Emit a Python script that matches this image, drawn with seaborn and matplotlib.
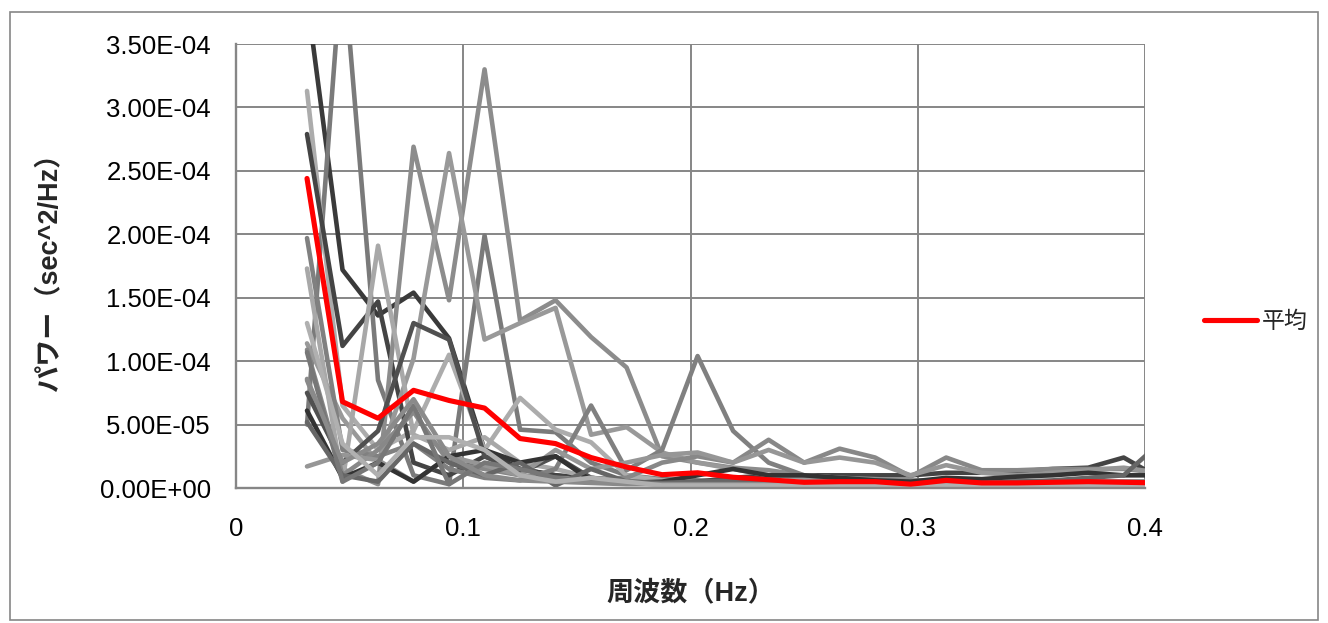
import matplotlib
matplotlib.use("Agg")
import matplotlib.pyplot as plt
from matplotlib.patches import Rectangle
from matplotlib.ticker import FuncFormatter, MultipleLocator
import seaborn as sns
import pandas as pd

# frequencies (Hz)
freq = [0.03125, 0.046875, 0.0625, 0.078125, 0.09375, 0.109375, 0.125, 0.140625,
        0.15625, 0.171875, 0.1875, 0.203125, 0.21875, 0.234375, 0.25, 0.265625,
        0.28125, 0.296875, 0.3125, 0.328125, 0.34375, 0.359375, 0.375, 0.390625, 0.40625]

UNIT = 1e-5  # values below are in units of 1e-5 sec^2/Hz

g01 = [38.6, 17.2, 13.6, 15.4, 11.8, 3.0, 1.5, 1.0, 0.8, 0.5, 0.4, 0.4, 0.5, 0.4, 0.4, 0.3, 0.3, 0.3, 0.4, 0.3, 0.3, 0.3, 0.3, 0.3, 0.3]
g02 = [5.0, 42.0, 8.5, 1.0, 0.3, 19.9, 4.6, 4.4, 2.0, 1.0, 0.7, 0.6, 0.5, 0.5, 0.4, 0.4, 0.4, 0.3, 0.3, 0.3, 0.3, 0.3, 0.3, 0.3, 0.3]
g03 = [31.3, 6.5, 3.0, 4.5, 10.5, 3.0, 7.1, 4.6, 3.6, 1.0, 0.6, 0.5, 0.5, 0.4, 0.4, 0.3, 0.3, 0.3, 0.3, 0.3, 0.3, 0.3, 0.3, 0.3, 0.3]
g04 = [27.9, 11.2, 14.7, 2.0, 1.0, 2.5, 1.5, 1.0, 0.6, 0.5, 0.4, 0.5, 0.8, 1.0, 1.0, 1.0, 1.0, 1.0, 1.2, 1.2, 1.3, 1.5, 1.6, 2.4, 0.8]
g05 = [8.5, 1.5, 0.3, 26.9, 14.8, 33.0, 13.2, 14.8, 11.9, 9.5, 2.5, 2.0, 1.6, 1.4, 1.0, 0.8, 0.7, 0.6, 0.6, 0.6, 0.6, 0.5, 0.5, 0.5, 0.5]
g06 = [11.4, 5.5, 2.0, 10.2, 26.4, 11.7, 13.0, 14.2, 4.2, 4.8, 2.8, 2.0, 1.5, 1.0, 0.8, 0.6, 0.5, 0.5, 0.5, 0.4, 0.4, 0.4, 0.4, 0.4, 0.4]
g07 = [17.3, 0.5, 19.1, 4.2, 3.0, 4.0, 2.0, 1.5, 0.8, 0.6, 0.5, 0.4, 0.4, 0.3, 0.3, 0.3, 0.3, 0.3, 0.3, 0.3, 0.3, 0.3, 0.3, 0.3, 0.3]
g08 = [19.7, 3.0, 2.5, 3.5, 1.5, 0.8, 0.6, 1.5, 6.5, 1.4, 3.0, 10.4, 4.5, 2.0, 1.0, 0.8, 0.6, 0.5, 0.5, 0.5, 0.5, 0.5, 0.5, 0.5, 0.5]
g09 = [7.5, 2.0, 4.5, 13.0, 11.7, 2.5, 1.2, 2.5, 0.8, 0.5, 0.4, 0.4, 0.4, 0.3, 0.3, 0.3, 0.3, 0.3, 0.3, 0.3, 0.3, 0.3, 0.3, 0.3, 0.3]
g10 = [10.9, 1.0, 3.0, 6.0, 2.0, 1.5, 1.0, 0.8, 0.7, 0.8, 2.0, 2.5, 2.0, 3.8, 2.0, 3.1, 2.4, 0.9, 2.4, 1.4, 1.4, 1.5, 1.5, 1.5, 1.2]
g11 = [1.7, 2.6, 2.2, 0.5, 2.5, 1.8, 1.0, 3.0, 1.5, 2.0, 2.6, 2.8, 2.0, 3.0, 2.0, 2.4, 2.0, 1.0, 1.8, 1.2, 1.0, 1.2, 1.4, 1.6, 1.2]
g12 = [6.1, 0.8, 2.0, 0.5, 2.5, 3.0, 2.0, 2.5, 0.6, 0.4, 0.5, 1.0, 1.5, 1.0, 1.0, 0.8, 0.6, 0.5, 0.8, 0.7, 0.9, 1.0, 1.2, 1.0, 1.0]
g13 = [5.2, 1.0, 0.5, 3.5, 2.0, 1.0, 2.0, 0.2, 1.5, 0.5, 0.4, 0.5, 0.6, 0.4, 0.3, 0.3, 0.3, 0.3, 0.3, 0.4, 0.5, 0.6, 0.8, 1.0, 3.5]
g14 = [10.7, 0.5, 2.0, 6.5, 0.3, 2.0, 1.5, 0.8, 0.5, 0.4, 0.3, 0.3, 0.3, 0.2, 0.2, 0.2, 0.2, 0.2, 0.2, 0.2, 0.2, 0.2, 0.2, 0.2, 0.2]
g15 = [8.6, 2.0, 3.5, 7.0, 2.5, 1.0, 0.6, 0.5, 0.4, 0.3, 0.3, 0.3, 0.3, 0.3, 0.3, 0.3, 0.2, 0.2, 0.2, 0.2, 0.2, 0.2, 0.2, 0.2, 0.2]
g16 = [13.0, 3.5, 1.0, 4.0, 4.0, 3.0, 1.0, 0.5, 0.8, 0.5, 0.2, 0.2, 0.2, 0.2, 0.2, 0.2, 0.2, 0.2, 0.2, 0.2, 0.2, 0.2, 0.2, 0.2, 0.2]

mean = [24.4, 6.8, 5.5, 7.7, 6.9, 6.3, 3.9, 3.5, 2.4, 1.65, 1.05, 1.2, 0.85, 0.65, 0.45, 0.5, 0.5, 0.3, 0.6, 0.4, 0.4, 0.45, 0.5, 0.45, 0.4]

gray_series = [g01, g02, g03, g04, g05, g06, g07, g08, g09, g10, g11, g12, g13, g14, g15, g16]
gray_colors = ['#3a3a3a', '#7a7a7a', '#acacac', '#444444', '#8c8c8c', '#999999', '#a8a8a8', '#808080',
               '#505050', '#888888', '#969696', '#333333', '#666666', '#777777', '#8a8a8a', '#b0b0b0']

mean_label = "平均"
xlabel = "周波数（Hz）"
ylabel = "パワー（sec^2/Hz）"

sns.set_style("white")
plt.rcParams['font.family'] = ['Liberation Sans', 'Noto Sans CJK JP', 'DejaVu Sans']

fig = plt.figure(figsize=(13.28, 6.23), dpi=100)
ax = fig.add_axes([236/1328, 1 - 488/623, (1145-236)/1328, (488-44)/623])

rows = []
for k, s in enumerate(gray_series):
    for f, v in zip(freq, s):
        rows.append({"freq": f, "power": v * UNIT, "series": f"s{k:02d}"})
df = pd.DataFrame(rows)
palette = {f"s{k:02d}": c for k, c in enumerate(gray_colors)}
sns.lineplot(data=df, x="freq", y="power", hue="series", palette=palette,
             linewidth=3.3, legend=False, ax=ax, estimator=None, sort=False)

sns.lineplot(x=freq, y=[v * UNIT for v in mean], color='#ff0000', linewidth=3.7,
             label=mean_label, ax=ax, estimator=None, sort=False)

ax.set_xlim(0, 0.4)
ax.set_ylim(0, 3.5e-4)
ax.xaxis.set_major_locator(MultipleLocator(0.1))
ax.yaxis.set_major_locator(MultipleLocator(5e-5))
ax.yaxis.set_major_formatter(FuncFormatter(lambda v, p: f"{v:.2E}"))
ax.xaxis.set_major_formatter(FuncFormatter(lambda v, p: "0" if abs(v) < 1e-9 else f"{v:g}"))

ax.grid(True, color='#868686', linewidth=1.4)
ax.set_axisbelow(True)
for side in ['top', 'right']:
    ax.spines[side].set_visible(False)
for side in ['left', 'bottom']:
    ax.spines[side].set_color('#868686')
    ax.spines[side].set_linewidth(1.7)

ax.tick_params(axis='both', length=0, labelsize=18.5, colors='black')
ax.tick_params(axis='y', pad=18)
ax.tick_params(axis='x', pad=21)

ax.set_xlabel(xlabel, fontsize=19.5, fontweight='bold')
ax.set_ylabel(ylabel, fontsize=19.5, fontweight='bold')
ax.xaxis.set_label_coords(0.5, -0.207)
ax.yaxis.set_label_coords(-0.191, 0.5)

leg = ax.legend(loc='center left', bbox_to_anchor=(1.055, 0.374), frameon=False,
                fontsize=16.5, handlelength=2.3, handletextpad=0.2, borderaxespad=0)

fig.patches.append(Rectangle((10/1328, 3/623), 1308/1328, 608/623, transform=fig.transFigure,
                             fill=False, edgecolor='#868686', linewidth=1.2))

fig.savefig("out.png", dpi=100)
